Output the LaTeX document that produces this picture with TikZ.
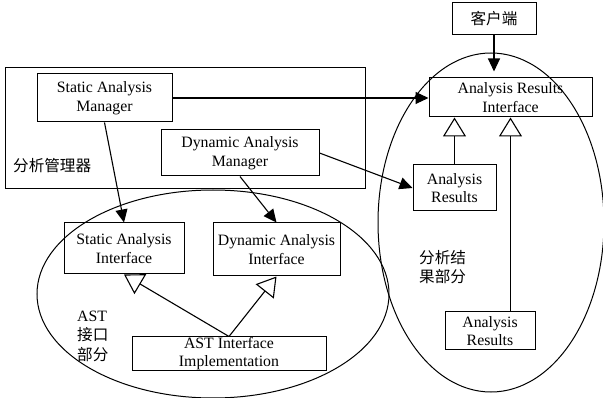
\documentclass[tikz,border=0pt]{standalone}
\usepackage{fontspec}
\setmainfont{Liberation Serif}
\newfontfamily\zhfont{Noto Sans CJK SC}
\usetikzlibrary{arrows.meta,shapes}

\begin{document}
\begin{tikzpicture}[
                    x=1pt, y=-1pt,
                    box style/.style={
                        draw,
                        line width=1pt,
                        inner sep=0pt,
                        align=center,
                        font=\fontsize{15.8}{18.5}\selectfont
                    },
                    zh style/.style={
                        inner sep=0pt,
                        align=left,
                        font=\zhfont\fontsize{15.6}{19.5}\selectfont
                    },
                    part style/.style={draw, line width=1pt, inner sep=0pt},
                    call edge/.style={draw, line width=1.1pt, -{Triangle[length=13pt,width=12pt]}},
                    realize edge/.style={draw, line width=1.1pt, -{Triangle[open,length=19pt,width=23pt]}}
                ]
                    \useasboundingbox (0,0) rectangle (603,398);

                    % the three parts
                    \node[part style, minimum width=360pt, minimum height=121pt] (managerpart) at (185,128.5) {};
                    \node[part style, ellipse, minimum width=352pt, minimum height=208pt] (astpart) at (213,294) {};
                    \node[part style, ellipse, minimum width=226pt, minimum height=339pt] (resultpart) at (491,222.5) {};

                    % boxes
                    \node[box style, minimum width=84pt, minimum height=32pt,
                          font=\zhfont\fontsize{15.6}{18}\selectfont] (client) at (494,19) {客户端};
                    \node[box style, minimum width=163pt, minimum height=39pt] (ari) at (510.5,97.5) {Analysis Results\\Interface};
                    \node[box style, minimum width=135pt, minimum height=48pt] (sam) at (104.5,98) {Static Analysis\\Manager};
                    \node[box style, minimum width=158pt, minimum height=46pt] (dam) at (240,153) {Dynamic Analysis\\Manager};
                    \node[box style, minimum width=120pt, minimum height=51pt] (sai) at (124,248.5) {Static Analysis\\Interface};
                    \node[box style, minimum width=127pt, minimum height=53pt] (dai) at (276.5,249.5) {Dynamic Analysis\\Interface};
                    \node[box style, minimum width=194pt, minimum height=33pt] (astimpl) at (229,353.5) {AST Interface\\Implementation};
                    \node[box style, minimum width=83pt, minimum height=46pt] (res1) at (454.5,188) {Analysis\\Results};
                    \node[box style, minimum width=90pt, minimum height=38pt] (res2) at (490,331) {Analysis\\Results};

                    % part labels
                    \node[zh style, anchor=west] (managerlabel) at (13,166) {分析管理器};
                    \node[zh style, anchor=west] (astlabel) at (77,336) {{\rmfamily\fontsize{15.8}{19.5}\selectfont AST}\\接口\\部分};
                    \node[zh style, anchor=west] (resultlabel) at (419,267) {分析结\\果部分};

                    % calls
                    \draw[call edge, shorten >=6pt] (client.south) -- (client.south |- ari.north);
                    \draw[call edge] (sam.east) -- (sam.east -| ari.west);
                    \draw[call edge] (dam.east) -- (res1.west);
                    \draw[call edge] (sam.south) -- (sai.north);
                    \draw[call edge] (dam.south) -- (dai.north);

                    % realizations
                    \draw[realize edge] (astimpl.north) -- (sai.south);
                    \draw[realize edge] (astimpl.north) -- (dai.south);
                    \draw[realize edge] (res1.north) -- (res1.north |- ari.south);
                    \draw[realize edge] (ari.south |- res2.north) -- (ari.south);
                \end{tikzpicture}
\end{document}
